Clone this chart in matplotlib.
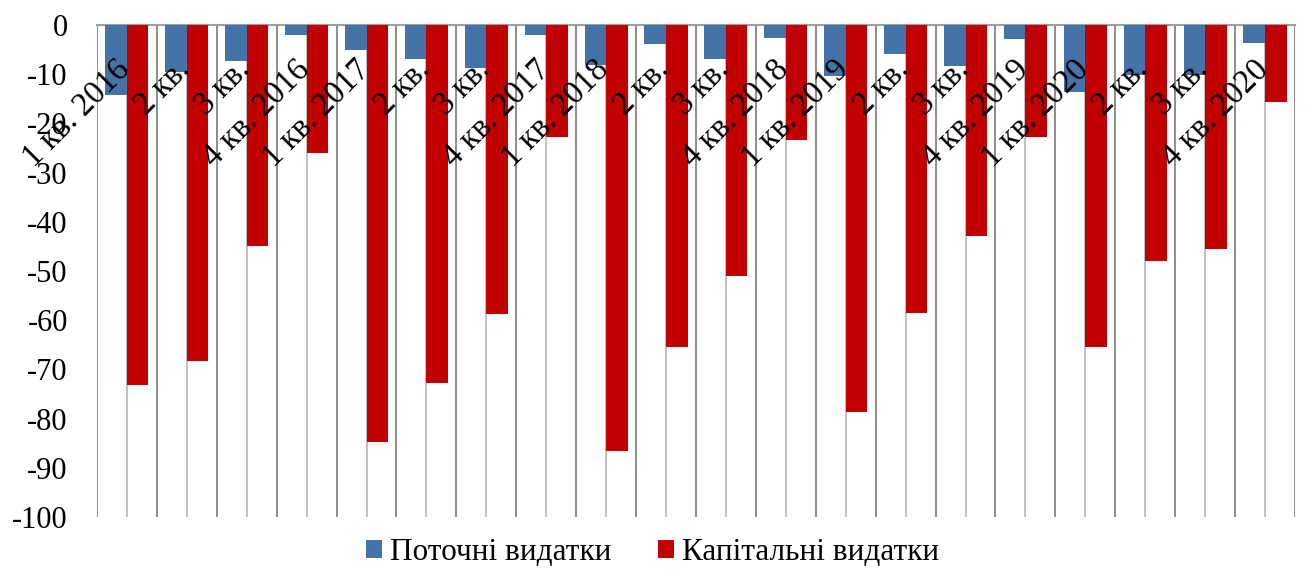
import numpy as np
import matplotlib
matplotlib.use("Agg")
from matplotlib import pyplot as plt

plt.rcParams['font.family'] = ['Liberation Serif', 'DejaVu Serif']

quarters = ["1 кв. 2016", "2 кв.", "3 кв.", "4 кв. 2016",
            "1 кв. 2017", "2 кв.", "3 кв.", "4 кв. 2017",
            "1 кв. 2018", "2 кв.", "3 кв.", "4 кв. 2018",
            "1 кв. 2019", "2 кв.", "3 кв.", "4 кв. 2019",
            "1 кв. 2020", "2 кв.", "3 кв.", "4 кв. 2020"]

current = [-14.3, -9.6, -7.4, -2.0, -5.0, -6.9, -8.7, -2.1, -8.2, -3.8,
           -6.8, -2.7, -10.3, -5.9, -8.4, -2.9, -13.6, -10.1, -10.2, -3.7]
capital = [-73.1, -68.3, -45.0, -26.1, -84.8, -72.7, -58.8, -22.7, -86.5, -65.5,
           -51.1, -23.3, -78.6, -58.6, -42.8, -22.8, -65.5, -47.9, -45.6, -15.7]

series_names = ["Поточні видатки", "Капітальні видатки"]
yticks = np.arange(-100, 1, 10)

fig = plt.figure(figsize=(13.05, 5.7), dpi=100)
ax = fig.add_axes([0.0743, 0.093, 0.918, 0.863])

x = np.arange(len(quarters))
w = 0.36
ax.bar(x - w, current, width=w, align='edge', color='#4572A7', label=series_names[0], zorder=3)
ax.bar(x, capital, width=w, align='edge', color='#C00000', label=series_names[1], zorder=3)

ax.set_xlim(-0.5, len(quarters) - 0.5)
ax.set_ylim(-100, 0)
ax.set_yticks(yticks)
ax.set_yticklabels([str(v) for v in yticks], fontsize=22)
ax.tick_params(axis='y', length=0, pad=21)

# vertical lines: dark at category borders, light at centers
ax.set_xticks(np.arange(-0.5, len(quarters), 1))
ax.set_xticks(x, minor=True)
ax.tick_params(axis='x', which='both', length=0, labelbottom=False)
ax.grid(axis='x', which='major', color='#8c8c8c', lw=1.4, zorder=0)
ax.grid(axis='x', which='minor', color='#c0c0c0', lw=1.4, zorder=0)
ax.set_axisbelow(True)

for s in ['left', 'right', 'bottom']:
    ax.spines[s].set_visible(False)
ax.spines['top'].set_color('#a0a0a0')
ax.spines['top'].set_linewidth(1.5)

for i, lab in enumerate(quarters):
    ax.annotate(lab, xy=(i, 0), xycoords='data', xytext=(-1, -29),
                textcoords='offset points', rotation=45, rotation_mode='anchor',
                ha='right', va='center', fontsize=23.5, zorder=5)

fig.legend(loc='center', bbox_to_anchor=(0.5, 0.03), bbox_transform=fig.transFigure,
           ncol=2, frameon=False, fontsize=22.5, handlelength=0.5, handleheight=0.5,
           handletextpad=0.25, columnspacing=1.5, borderaxespad=0, borderpad=0)

plt.savefig('out.png', dpi=100)
